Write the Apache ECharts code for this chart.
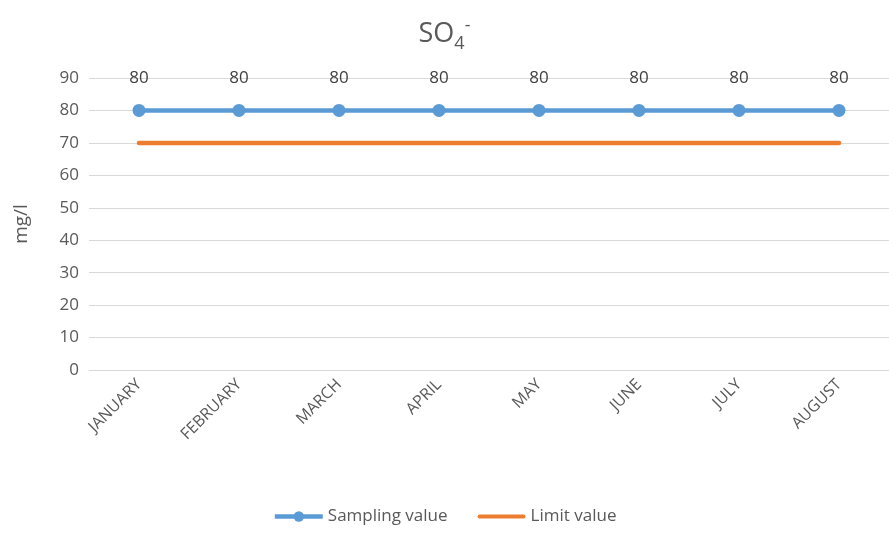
<!DOCTYPE html>
<html lang="en">
<head>
  <meta charset="UTF-8">
  <title>SO4</title>
  <script src="https://cdn.jsdelivr.net/npm/echarts@6/dist/echarts.min.js"></script>
</head>
<body style="margin:0">
  <div id="main" style="width: 889px; height: 536px;"></div>
  <script>
    // months and values
    const months = ['JANUARY', 'FEBRUARY', 'MARCH', 'APRIL', 'MAY', 'JUNE', 'JULY', 'AUGUST']
    const sampling = [80, 80, 80, 80, 80, 80, 80, 80]
    const limit = [70, 70, 70, 70, 70, 70, 70, 70]

    const chart = echarts.init(document.getElementById('main'))
    const grey = '#595959'
    const font = 'Open Sans, sans-serif'

    chart.setOption({
      textStyle: { fontFamily: font },
      title: {
        text: '{n|SO}{sub|4}{sup|-}',
        left: 'center',
        top: 10,
        textStyle: {
          fontWeight: 'normal',
          rich: {
            n: { fontSize: 27, color: grey, fontFamily: font, fontWeight: 'normal' },
            sub: { fontSize: 18, color: grey, fontFamily: font, fontWeight: 'normal', padding: [20, 0, 0, 0] },
            sup: { fontSize: 18, color: grey, fontFamily: font, fontWeight: 'normal', padding: [0, 0, 16, 0] }
          }
        }
      },
      legend: {
        bottom: 6,
        left: 'center',
        itemGap: 30,
        itemWidth: 48,
        itemHeight: 13,
        lineStyle: { width: 4.5 },
        textStyle: { color: grey, fontSize: 17, fontFamily: font },
        data: [
          { name: 'Sampling value' },
          { name: 'Limit value', icon: 'path://M2,0 L46,0 A2,2 0 0 1 46,4 L2,4 A2,2 0 0 1 2,0 Z', itemHeight: 5 }
        ]
      },
      grid: { left: 89, top: 78, width: 804, height: 292 },
      xAxis: {
        type: 'category',
        data: months,
        boundaryGap: true,
        axisLine: { lineStyle: { color: '#d9d9d9' } },
        axisTick: { show: false },
        axisLabel: { color: grey, fontSize: 16, rotate: 45, margin: 12, interval: 0 }
      },
      yAxis: {
        type: 'value',
        min: 0,
        max: 90,
        interval: 10,
        name: 'mg/l',
        nameLocation: 'middle',
        nameGap: 58,
        nameTextStyle: { color: grey, fontSize: 19 },
        axisLine: { show: false },
        axisTick: { show: false },
        axisLabel: { color: grey, fontSize: 17, margin: 10 },
        splitLine: { lineStyle: { color: '#d9d9d9', width: 1 } }
      },
      series: [
        {
          name: 'Sampling value',
          type: 'line',
          data: sampling,
          symbol: 'circle',
          symbolSize: 13,
          color: '#5B9BD5',
          lineStyle: { width: 4.5 },
          label: { show: true, position: 'top', distance: 17, color: '#404040', fontSize: 17 }
        },
        {
          name: 'Limit value',
          type: 'line',
          data: limit,
          symbol: 'none',
          color: '#ED7D31',
          lineStyle: { width: 4.5, cap: 'round' }
        }
      ]
    })
  </script>
</body>
</html>
